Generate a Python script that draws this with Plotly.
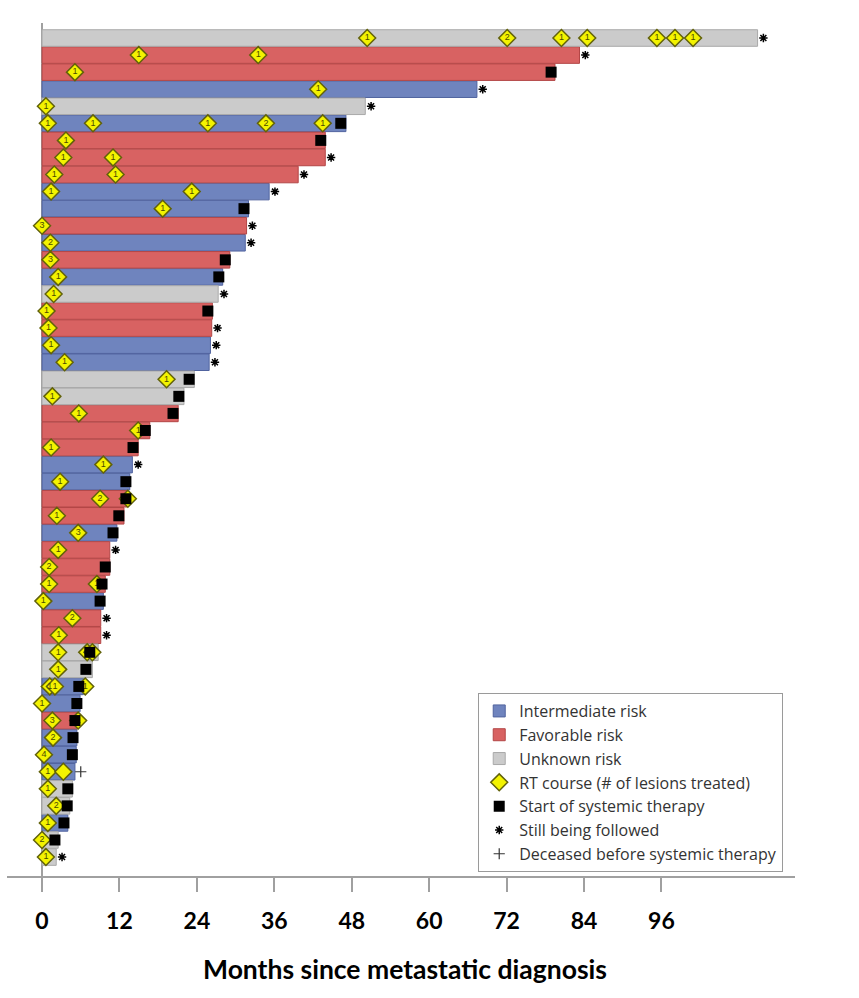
import plotly.graph_objects as go

# ---------------- data (one entry per patient, top row first) ----------------
risk = ["U", "F", "F", "I", "U", "I", "F", "F", "F", "I",
        "I", "F", "I", "F", "I", "U", "F", "F", "I", "I",
        "U", "U", "F", "F", "F", "I", "I", "F", "F", "I",
        "F", "F", "F", "I", "F", "F", "U", "U", "I", "I",
        "F", "I", "I", "I", "U", "U", "I", "U", "U"]

follow_months = [110.9, 83.3, 79.5, 67.4, 50.1, 47.1, 43.9, 43.9, 39.7, 35.2,
                 32.0, 31.7, 31.5, 29.1, 28.0, 27.3, 26.4, 26.3, 26.1, 25.9,
                 23.6, 22.0, 21.1, 16.7, 14.9, 14.0, 13.6, 13.2, 12.7, 11.6,
                 10.5, 10.5, 9.8, 9.5, 9.1, 9.1, 8.7, 7.8, 6.4, 5.9,
                 5.6, 5.4, 5.3, 5.1, 4.7, 4.3, 4.0, 2.5, 2.2]

systemic_start = [None, None, 78.9, None, None, 46.3, 43.2, None, None, None,
                  31.3, None, None, 28.4, 27.4, None, 25.7, None, None, None,
                  22.8, 21.2, 20.3, 16.0, 14.1, None, 13.0, 13.0, 11.9, 11.0,
                  None, 9.8, 9.3, 9.0, None, None, 7.4, 6.8, 5.7, 5.4,
                  5.1, 4.8, 4.7, None, 4.0, 3.9, 3.4, 2.0, None]

# "F" = still being followed, "D" = deceased before systemic therapy, "" = none
end_status = ["F", "F", "", "F", "F", "", "", "F", "F", "F",
              "", "F", "F", "", "", "F", "", "F", "F", "F",
              "", "", "", "", "", "F", "", "", "", "",
              "F", "", "", "", "F", "F", "", "", "", "",
              "", "", "", "D", "", "", "", "", "F"]

rt_months = [[50.4, 72.1, 80.5, 84.5, 95.3, 98.1, 100.9], [15.0, 33.5], [5.1], [42.8], [0.6],
             [0.9, 7.9, 25.7, 34.7, 43.5], [3.7], [3.3, 11.0], [1.9, 11.4], [1.4, 23.2],
             [18.7], [0.0], [1.3], [1.3], [2.5], [1.8], [0.7], [1.0], [1.4], [3.5],
             [19.3], [1.6], [5.7], [14.9], [1.4], [9.5], [2.8], [9.0, 13.3], [2.3], [5.6],
             [2.5], [1.1], [1.1, 8.5], [0.2], [4.7], [2.6], [2.5, 7.0, 7.8], [2.5],
             [1.2, 2.0, 6.7], [0.0], [1.6, 5.6], [1.7], [0.3], [0.9, 3.3], [0.9], [2.2],
             [0.9], [0.0], [0.6]]

rt_lesions = [["1", "2", "1", "1", "1", "1", "1"], ["1", "1"], ["1"], ["1"], ["1"],
              ["1", "1", "1", "2", "1"], ["1"], ["1", "1"], ["1", "1"], ["1", "1"],
              ["1"], ["3"], ["2"], ["3"], ["1"], ["1"], ["1"], ["1"], ["1"], ["1"],
              ["1"], ["1"], ["1"], ["1"], ["1"], ["1"], ["1"], ["2", "1"], ["1"], ["3"],
              ["1"], ["2"], ["1", "1"], ["1"], ["2"], ["1"], ["1", "1", "1"], ["1"],
              ["1", "1", "1"], ["1"], ["3", "1"], ["2"], ["4"], ["1", ""], ["1"], ["2"],
              ["1"], ["2"], ["1"]]

risk_names = {"I": "Intermediate risk", "F": "Favorable risk", "U": "Unknown risk"}
x_ticks = [0, 12, 24, 36, 48, 60, 72, 84, 96]
x_title = "Months since metastatic diagnosis"

# ---------------- styles ----------------
risk_fill = {"I": "#6f84be", "F": "#d86262", "U": "#cbcbcb"}
risk_edge = {"I": "#50639f", "F": "#b34646", "U": "#a9a9a9"}
end_offset = 0.9  # months to the right of bar end for the end-status symbol

rows = list(range(1, len(risk) + 1))
fig = go.Figure()

for code in ["I", "F", "U"]:
    ys = [r for r, k in zip(rows, risk) if k == code]
    xs = [m for m, k in zip(follow_months, risk) if k == code]
    fig.add_trace(go.Bar(
        x=xs, y=ys, orientation="h", name=risk_names[code],
        marker=dict(color=risk_fill[code], line=dict(color=risk_edge[code], width=1)),
        hoverinfo="x+name"))

# RT courses (diamonds with # of lesions)
dx, dy, dt = [], [], []
for r, ms, ls in zip(rows, rt_months, rt_lesions):
    for m, l in zip(ms, ls):
        dx.append(m); dy.append(r); dt.append(l)
fig.add_trace(go.Scatter(
    x=dx, y=dy, mode="markers+text", text=dt, textposition="middle center",
    textfont=dict(size=9, color="#4a4a00", family="Arial, Liberation Sans, sans-serif"),
    marker=dict(symbol="diamond", size=13, color="#f3f300", line=dict(color="#62620a", width=1.5)),
    name="RT course (# of lesions treated)"))

# Start of systemic therapy
sx = [s for s in systemic_start if s is not None]
sy = [r for r, s in zip(rows, systemic_start) if s is not None]
fig.add_trace(go.Scatter(
    x=sx, y=sy, mode="markers",
    marker=dict(symbol="square", size=11, color="black"),
    name="Start of systemic therapy"))

# Still being followed
ax = [m + end_offset for m, s in zip(follow_months, end_status) if s == "F"]
ay = [r for r, s in zip(rows, end_status) if s == "F"]
fig.add_trace(go.Scatter(
    x=ax, y=ay, mode="markers",
    marker=dict(symbol="asterisk", size=7, color="black", line=dict(color="black", width=1.5)),
    name="Still being followed"))

# Deceased before systemic therapy
px_ = [m + end_offset for m, s in zip(follow_months, end_status) if s == "D"]
py_ = [r for r, s in zip(rows, end_status) if s == "D"]
fig.add_trace(go.Scatter(
    x=px_, y=py_, mode="markers",
    marker=dict(symbol="cross-thin", size=8, color="black", line=dict(color="#333", width=1.2)),
    name="Deceased before systemic therapy"))

label_font = "Lato, Roboto, sans-serif"

fig.update_layout(
    width=859, height=998,
    margin=dict(l=7, r=64, t=23, b=122),
    paper_bgcolor="white", plot_bgcolor="white",
    barmode="overlay", bargap=0.03,
    showlegend=True,
    legend=dict(x=0.598, y=0.2145, xanchor="left", yanchor="top",
                bordercolor="#9a9a9a", borderwidth=1, bgcolor="white",
                font=dict(size=16, color="#333333", family="Open Sans, DejaVu Sans, sans-serif"),
                traceorder="normal"),
    xaxis=dict(range=[-5.43, 116.7], tickvals=x_ticks, ticktext=[str(t) for t in x_ticks],
               showgrid=False, zeroline=True, zerolinecolor="#a0a0a0", zerolinewidth=1.5,
               showline=True, linecolor="#a0a0a0", linewidth=1.5,
               ticks="outside", ticklen=14, tickcolor="#a0a0a0", tickwidth=1.5,
               ticklabelstandoff=10,
               tickfont=dict(size=23, color="black", family=label_font, weight="bold")),
    yaxis=dict(range=[50.11, 0.12], showticklabels=False, showgrid=False,
               zeroline=False, showline=False, ticks=""),
    annotations=[dict(text="<b>" + x_title + "</b>", xref="paper", yref="paper",
                      x=0.505, y=-0.109, xanchor="center", yanchor="middle", showarrow=False,
                      font=dict(size=26.5, color="black", family=label_font))],
)

fig.write_html("out.html")
